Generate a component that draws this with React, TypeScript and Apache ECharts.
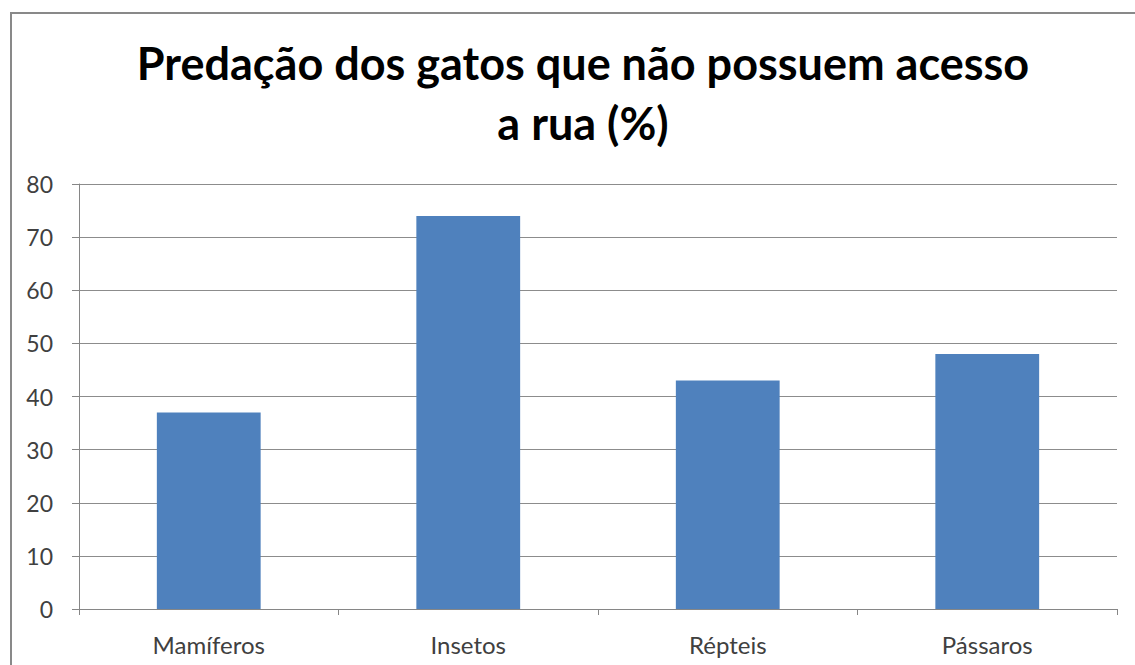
import React, { useEffect, useRef } from "react";
import * as echarts from "echarts";

const categories = ["Mamíferos", "Insetos", "Répteis", "Pássaros"];
const values = [37, 74, 43, 48];
const titleLines = ["Predação dos gatos que não possuem acesso", "a rua (%)"];

export default function App() {
  const ref = useRef<HTMLDivElement>(null);
  useEffect(() => {
    document.body.style.margin = "0";
    const chart = echarts.init(ref.current!, null, { renderer: "svg" });
    chart.setOption({
      animation: false,
      backgroundColor: "#ffffff",
      title: {
        text: titleLines.join("\n"),
        left: 578,
        top: 28,
        textAlign: "center",
        textStyle: {
          fontFamily: "Lato",
          fontWeight: "bold",
          fontSize: 45,
          lineHeight: 60,
          color: "#000000",
        },
      },
      graphic: [
        {
          type: "rect",
          shape: { x: 11, y: 13, width: 1150, height: 700 },
          style: { fill: "none", stroke: "#898989", lineWidth: 2 },
          silent: true,
        },
      ],
      grid: { left: 79, right: 18, top: 184, bottom: 56, containLabel: false },
      xAxis: {
        type: "category",
        data: categories,
        axisLine: { show: true, lineStyle: { color: "#868686", width: 1 } },
        axisTick: { show: true, length: 6, lineStyle: { color: "#868686" } },
        axisLabel: {
          fontFamily: "Lato",
          fontSize: 24,
          color: "#404040",
          margin: 23,
        },
      },
      yAxis: {
        type: "value",
        min: 0,
        max: 80,
        interval: 10,
        axisLine: { show: true, lineStyle: { color: "#868686", width: 1 } },
        axisTick: { show: true, length: 7, lineStyle: { color: "#868686" } },
        axisLabel: {
          fontFamily: "Lato",
          fontSize: 23,
          color: "#404040",
          margin: 26,
        },
        splitLine: { show: true, lineStyle: { color: "#8c8c8c", width: 1 } },
      },
      series: [
        {
          type: "bar",
          data: values,
          barWidth: "40%",
          itemStyle: { color: "#4f81bd" },
        },
      ],
    });
    return () => chart.dispose();
  }, []);
  return <div ref={ref} style={{ width: 1135, height: 665 }} />;
}
